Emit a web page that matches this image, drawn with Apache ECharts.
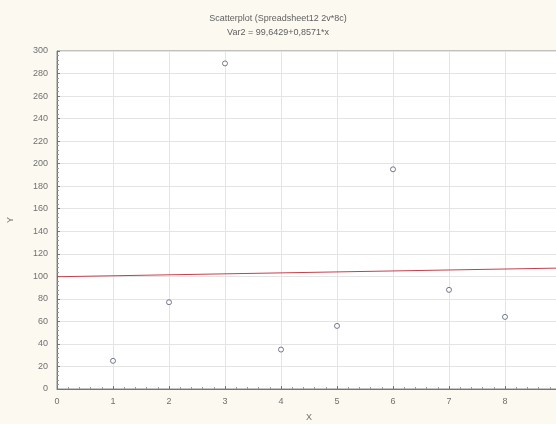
<!DOCTYPE html>
<html><head><meta charset="utf-8">
<script src="https://cdn.jsdelivr.net/npm/echarts@6/dist/echarts.min.js"></script>
<style>html,body{margin:0;padding:0;background:#fcf9f1;}#c{width:556px;height:424px;}</style>
</head><body><div id="c"></div>
<script>
const xValues = [1, 2, 3, 4, 5, 6, 7, 8];
const yValues = [25, 77, 289, 35, 56, 195, 88, 64];
const fitIntercept = 99.6429;
const fitSlope = 0.8571;
const fitRange = [0, 9];
const titleLines = ['Scatterplot (Spreadsheet12 2v*8c)', 'Var2 = 99,6429+0,8571*x'];

const points = xValues.map((x, i) => [x, yValues[i]]);
const fitLine = fitRange.map(x => [x, fitIntercept + fitSlope * x]);

const chart = echarts.init(document.getElementById('c'), null, {renderer: 'canvas'});
const axisText = {color: '#707070', fontSize: 9, fontFamily: 'Liberation Sans, Arial'};
chart.setOption({
  backgroundColor: '#fcf9f1',
  animation: false,
  title: {
    text: titleLines.join('\n'),
    left: 'center', top: 7,
    textStyle: {color: '#606060', fontSize: 9, fontWeight: 'normal', fontFamily: 'Liberation Sans, Arial', lineHeight: 14}
  },
  grid: {left: 57, width: 504, top: 51, height: 338, outerBoundsMode: 'none', containLabel: false,
    show: true, backgroundColor: '#ffffff', borderColor: '#888', borderWidth: 1},
  xAxis: {
    type: 'value', min: 0, max: 9, interval: 1,
    name: 'X', nameLocation: 'middle', nameGap: 24,
    nameTextStyle: axisText,
    axisLine: {show: true, onZero: false, lineStyle: {color: '#777'}},
    axisTick: {show: true, inside: true, length: 3, lineStyle: {color: '#777'}},
    minorTick: {show: true, splitNumber: 5, length: 2, lineStyle: {color: '#999'}},
    axisLabel: Object.assign({margin: 8}, axisText),
    splitLine: {show: true, lineStyle: {color: '#e4e4e4'}}
  },
  yAxis: {
    type: 'value', min: 0, max: 300, interval: 20,
    name: 'Y', nameLocation: 'middle', nameGap: 42, nameRotate: 90,
    nameTextStyle: axisText,
    axisLine: {show: true, onZero: false, lineStyle: {color: '#777'}},
    axisTick: {show: true, inside: true, length: 3, lineStyle: {color: '#777'}},
    minorTick: {show: true, splitNumber: 5, length: 2, lineStyle: {color: '#999'}},
    axisLabel: Object.assign({margin: 9}, axisText),
    splitLine: {show: true, lineStyle: {color: '#e4e4e4'}}
  },
  series: [
    {
      type: 'line', data: fitLine, symbol: 'none',
      lineStyle: {color: '#c4404c', width: 1}, z: 2
    },
    {
      type: 'scatter', data: points, symbol: 'circle', symbolSize: 5,
      itemStyle: {color: '#ffffff', borderColor: '#505a70', borderWidth: 1}, z: 3
    }
  ]
});
</script></body></html>
